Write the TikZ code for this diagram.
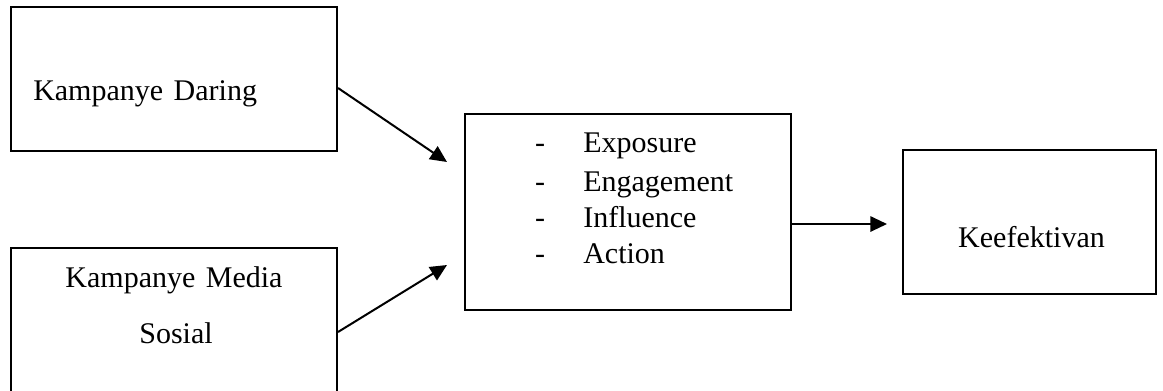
\documentclass[tikz,border=0pt]{standalone}
\usepackage{fontspec}
\setmainfont{Liberation Serif}
\usetikzlibrary{arrows.meta}
\tikzset{
  boxnode/.style={draw=black, line width=1.5pt, rectangle, inner sep=0pt},
  lbl/.style={inner sep=0pt, font=\fontsize{22.5pt}{27pt}\selectfont},
  conn/.style={line width=1.5pt, -{Triangle[length=12.5pt,width=11.5pt]}}
}
\begin{document}
\begin{tikzpicture}[x=0.75pt,y=-0.75pt]
\useasboundingbox (0,0) rectangle (1163,390);
\fill[white] (0,0) rectangle (1163,390);
% boxes
\node[boxnode, minimum width=244.5pt, minimum height=108pt] (b1) at (174,79) {};
\node[boxnode, minimum width=244.5pt, minimum height=114pt] (b2) at (174,324) {};
\node[boxnode, minimum width=244.5pt, minimum height=147pt] (b3) at (628,212) {};
\node[boxnode, minimum width=189.75pt, minimum height=108pt] (b4) at (1029.5,222) {};
% texts
\node[lbl, anchor=base west] (t1) at (33,100) {Kampanye\hspace{0.35em}Daring};
\node[lbl, anchor=base] (t2a) at (174,287) {Kampanye\hspace{0.35em}Media};
\node[lbl, anchor=base] (t2b) at (176,343) {Sosial};
\node[lbl, anchor=base] (d1) at (540,152) {-};
\node[lbl, anchor=base] (d2) at (540,191) {-};
\node[lbl, anchor=base] (d3) at (540,227) {-};
\node[lbl, anchor=base] (d4) at (540,263) {-};
\node[lbl, anchor=base west] (w1) at (583,152) {Exposure};
\node[lbl, anchor=base west] (w2) at (583,191) {Engagement};
\node[lbl, anchor=base west] (w3) at (583,227) {Influence};
\node[lbl, anchor=base west] (w4) at (583,263) {Action};
\node[lbl, anchor=base] (t4) at (1031.5,247) {Keefektivan};
% connectors
\coordinate (e1) at (447,162);
\coordinate (e2) at (447,265);
\coordinate (e3) at (887,224);
\draw[conn] ([yshift=-6.75pt]b1.east) -- (e1);
\draw[conn] ([yshift=-6pt]b2.east) -- (e2);
\draw[conn] ([yshift=-9pt]b3.east) -- (e3);
\end{tikzpicture}
\end{document}
